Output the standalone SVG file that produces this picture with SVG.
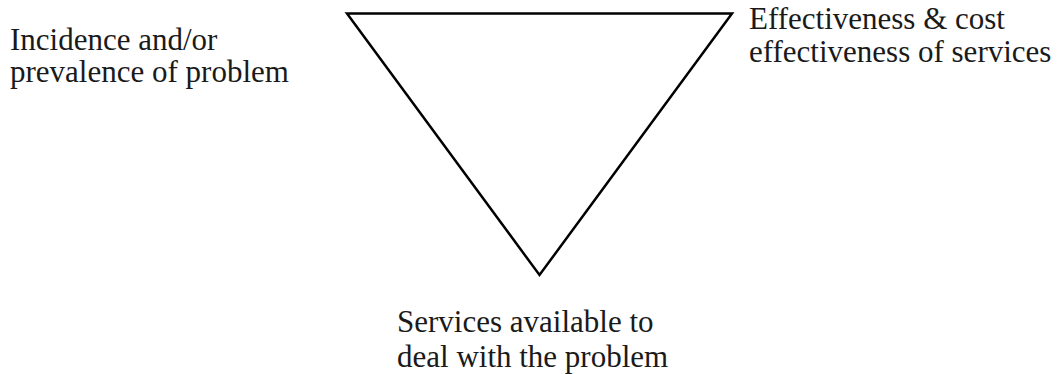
<svg xmlns="http://www.w3.org/2000/svg" width="1061" height="374" viewBox="0 0 1061 374">
<style>
.lbl{font-family:"Liberation Serif","Times New Roman",serif;font-size:31px;fill:#1a1a1a}
.edge{fill:none;stroke:#000;stroke-width:2.5;stroke-linejoin:miter}
</style>
<rect width="1061" height="374" fill="#fff"/>
<g id="connectors">
<polygon class="edge" points="347,13.5 732,13.5 539.5,275"/>
</g>
<g id="node-incidence">
<text class="lbl" x="10" y="50">Incidence and/or</text>
<text class="lbl" x="10" y="82">prevalence of problem</text>
</g>
<g id="node-effectiveness">
<text class="lbl" x="749" y="29">Effectiveness &amp; cost</text>
<text class="lbl" x="749" y="62">effectiveness of services</text>
</g>
<g id="node-services">
<text class="lbl" x="397" y="332">Services available to</text>
<text class="lbl" x="397" y="367">deal with the problem</text>
</g>
</svg>
